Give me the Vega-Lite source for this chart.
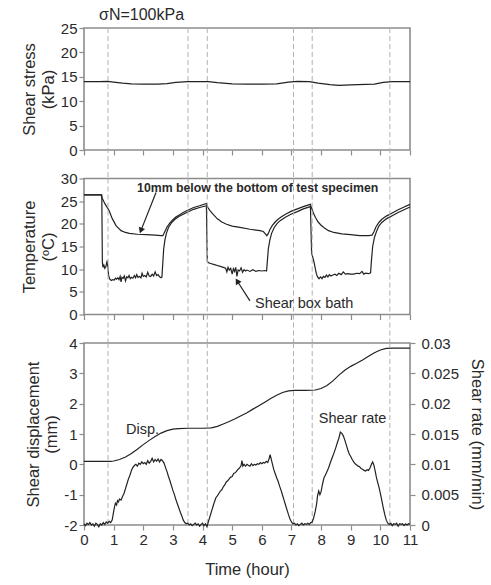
{
  "$schema": "https://vega.github.io/schema/vega-lite/v6.json",
  "background": "white",
  "padding": {"left": 21, "top": 6, "right": 2, "bottom": 2},
  "config": {
    "font": "Liberation Sans",
    "view": {"stroke": "#8c8c8c", "strokeWidth": 1.6},
    "axis": {"domain": false, "grid": false, "tickColor": "#8c8c8c", "tickSize": 5, "tickWidth": 1.2, "labelFontSize": 15, "labelColor": "#2a2a2a", "titleFontSize": 16.5, "titleFontWeight": "normal", "titleColor": "#2a2a2a", "labelPadding": 2, "titlePadding": 4, "labelOverlap": false, "labelFlush": false},
    "line": {"color": "#222", "strokeWidth": 1.2}
  },
  "datasets": {
    "vlines": [{"t": 0.81}, {"t": 3.51}, {"t": 4.16}, {"t": 7.07}, {"t": 7.70}, {"t": 10.32}],
    "stress": [
      {"t":0,"v":14.0},{"t":0.5,"v":14.0},{"t":0.8,"v":14.05},{"t":1.0,"v":13.9},{"t":1.3,"v":13.7},{"t":1.6,"v":13.55},{"t":2.0,"v":13.5},{"t":2.5,"v":13.5},{"t":2.8,"v":13.6},{"t":3.1,"v":13.85},{"t":3.5,"v":14.0},{"t":4.2,"v":14.0},{"t":4.5,"v":13.8},{"t":5.0,"v":13.55},{"t":5.5,"v":13.5},{"t":6.0,"v":13.5},{"t":6.5,"v":13.55},{"t":6.9,"v":13.9},{"t":7.2,"v":14.05},{"t":7.6,"v":14.0},{"t":7.9,"v":13.7},{"t":8.3,"v":13.4},{"t":8.6,"v":13.25},{"t":9.0,"v":13.35},{"t":9.5,"v":13.45},{"t":9.8,"v":13.5},{"t":10.1,"v":13.85},{"t":10.4,"v":14.0},{"t":11,"v":14.0}
    ],
    "temp": [
      {"s":"upper","t":0,"v":26.4},{"s":"upper","t":0.57,"v":26.4},{"s":"upper","t":0.62,"v":25.6},{"s":"upper","t":0.7,"v":24.5},{"s":"upper","t":0.85,"v":22.9},{"s":"upper","t":0.95,"v":21.2},{"s":"upper","t":1.08,"v":19.6},{"s":"upper","t":1.25,"v":18.5},{"s":"upper","t":1.4,"v":18.1},{"s":"upper","t":1.53,"v":17.9},{"s":"upper","t":1.8,"v":17.7},{"s":"upper","t":2.1,"v":17.6},{"s":"upper","t":2.4,"v":17.5},{"s":"upper","t":2.6,"v":17.4},{"s":"upper","t":2.66,"v":17.4},{"s":"upper","t":2.7,"v":17.9},{"s":"upper","t":2.75,"v":18.6},{"s":"upper","t":2.8,"v":19.3},{"s":"upper","t":2.9,"v":20.2},{"s":"upper","t":3.0,"v":20.9},{"s":"upper","t":3.1,"v":21.5},{"s":"upper","t":3.2,"v":21.9},{"s":"upper","t":3.35,"v":22.5},{"s":"upper","t":3.5,"v":23.0},{"s":"upper","t":3.7,"v":23.6},{"s":"upper","t":3.9,"v":24.0},{"s":"upper","t":4.13,"v":24.5},{"s":"upper","t":4.18,"v":23.6},{"s":"upper","t":4.25,"v":22.9},{"s":"upper","t":4.36,"v":22.1},{"s":"upper","t":4.5,"v":21.1},{"s":"upper","t":4.65,"v":20.4},{"s":"upper","t":4.81,"v":19.9},{"s":"upper","t":5.0,"v":19.5},{"s":"upper","t":5.26,"v":19.2},{"s":"upper","t":5.6,"v":18.8},{"s":"upper","t":5.94,"v":18.5},{"s":"upper","t":6.05,"v":18.3},{"s":"upper","t":6.12,"v":17.8},{"s":"upper","t":6.17,"v":17.4},{"s":"upper","t":6.22,"v":17.9},{"s":"upper","t":6.27,"v":18.7},{"s":"upper","t":6.35,"v":19.6},{"s":"upper","t":6.45,"v":20.4},{"s":"upper","t":6.55,"v":21.0},{"s":"upper","t":6.65,"v":21.5},{"s":"upper","t":6.8,"v":22.1},{"s":"upper","t":7.0,"v":22.8},{"s":"upper","t":7.2,"v":23.3},{"s":"upper","t":7.4,"v":23.8},{"s":"upper","t":7.64,"v":24.3},{"s":"upper","t":7.68,"v":23.5},{"s":"upper","t":7.74,"v":22.4},{"s":"upper","t":7.81,"v":21.4},{"s":"upper","t":7.9,"v":20.4},{"s":"upper","t":8.0,"v":19.7},{"s":"upper","t":8.09,"v":19.2},{"s":"upper","t":8.25,"v":18.5},{"s":"upper","t":8.43,"v":18.1},{"s":"upper","t":8.7,"v":17.8},{"s":"upper","t":9.0,"v":17.6},{"s":"upper","t":9.3,"v":17.4},{"s":"upper","t":9.6,"v":17.4},{"s":"upper","t":9.72,"v":17.5},{"s":"upper","t":9.78,"v":18.2},{"s":"upper","t":9.85,"v":19.3},{"s":"upper","t":9.95,"v":20.3},{"s":"upper","t":10.05,"v":21.0},{"s":"upper","t":10.2,"v":21.7},{"s":"upper","t":10.4,"v":22.4},{"s":"upper","t":10.6,"v":23.1},{"s":"upper","t":10.8,"v":23.7},{"s":"upper","t":11.0,"v":24.3},
      {"s":"bath","t":0,"v":26.4},{"s":"bath","t":0.6,"v":26.4},{"s":"bath","t":0.62,"v":11.5},{"s":"bath","t":0.64,"v":10.4},{"s":"bath","t":0.67,"v":10.9},{"s":"bath","t":0.7,"v":10.2},{"s":"bath","t":0.74,"v":10.6},{"s":"bath","t":0.78,"v":11.9},{"s":"bath","t":0.8,"v":10.8},{"s":"bath","t":0.83,"v":8.6},{"s":"bath","t":0.87,"v":7.8},{"s":"bath","t":0.92,"v":7.5},{"s":"bath","t":0.97,"v":7.7},{"s":"bath","t":1.02,"v":7.6},{"s":"bath","t":1.06,"v":8.0},{"s":"bath","t":1.1,"v":7.8},{"s":"bath","t":1.14,"v":8.1},{"s":"bath","t":1.18,"v":7.7},{"s":"bath","t":1.22,"v":8.4},{"s":"bath","t":1.25,"v":7.2},{"s":"bath","t":1.28,"v":8.2},{"s":"bath","t":1.32,"v":8.0},{"s":"bath","t":1.36,"v":8.5},{"s":"bath","t":1.4,"v":7.4},{"s":"bath","t":1.44,"v":8.3},{"s":"bath","t":1.48,"v":8.1},{"s":"bath","t":1.52,"v":8.6},{"s":"bath","t":1.56,"v":7.9},{"s":"bath","t":1.6,"v":8.2},{"s":"bath","t":1.65,"v":8.0},{"s":"bath","t":1.7,"v":8.6},{"s":"bath","t":1.74,"v":8.1},{"s":"bath","t":1.78,"v":8.8},{"s":"bath","t":1.82,"v":8.2},{"s":"bath","t":1.87,"v":8.4},{"s":"bath","t":1.92,"v":8.1},{"s":"bath","t":1.96,"v":9.1},{"s":"bath","t":2.0,"v":8.4},{"s":"bath","t":2.05,"v":8.6},{"s":"bath","t":2.1,"v":8.3},{"s":"bath","t":2.15,"v":9.3},{"s":"bath","t":2.2,"v":8.5},{"s":"bath","t":2.25,"v":8.4},{"s":"bath","t":2.3,"v":8.9},{"s":"bath","t":2.35,"v":8.5},{"s":"bath","t":2.4,"v":9.4},{"s":"bath","t":2.45,"v":8.6},{"s":"bath","t":2.5,"v":8.8},{"s":"bath","t":2.55,"v":8.3},{"s":"bath","t":2.6,"v":8.1},{"s":"bath","t":2.63,"v":8.3},{"s":"bath","t":2.66,"v":11.5},{"s":"bath","t":2.69,"v":14.5},{"s":"bath","t":2.73,"v":16.4},{"s":"bath","t":2.78,"v":17.9},{"s":"bath","t":2.85,"v":19.2},{"s":"bath","t":2.95,"v":20.2},{"s":"bath","t":3.05,"v":20.9},{"s":"bath","t":3.2,"v":21.6},{"s":"bath","t":3.35,"v":22.1},{"s":"bath","t":3.5,"v":22.6},{"s":"bath","t":3.7,"v":23.2},{"s":"bath","t":3.9,"v":23.6},{"s":"bath","t":4.13,"v":24.0},{"s":"bath","t":4.16,"v":11.8},{"s":"bath","t":4.2,"v":11.4},{"s":"bath","t":4.3,"v":11.2},{"s":"bath","t":4.4,"v":11.0},{"s":"bath","t":4.5,"v":10.8},{"s":"bath","t":4.6,"v":10.6},{"s":"bath","t":4.7,"v":10.4},{"s":"bath","t":4.78,"v":10.2},{"s":"bath","t":4.82,"v":9.4},{"s":"bath","t":4.86,"v":10.4},{"s":"bath","t":4.9,"v":9.8},{"s":"bath","t":4.95,"v":10.2},{"s":"bath","t":5.0,"v":8.9},{"s":"bath","t":5.04,"v":10.1},{"s":"bath","t":5.08,"v":9.5},{"s":"bath","t":5.12,"v":10.4},{"s":"bath","t":5.16,"v":8.4},{"s":"bath","t":5.2,"v":9.8},{"s":"bath","t":5.25,"v":9.6},{"s":"bath","t":5.3,"v":10.3},{"s":"bath","t":5.35,"v":9.3},{"s":"bath","t":5.4,"v":9.9},{"s":"bath","t":5.45,"v":9.6},{"s":"bath","t":5.5,"v":9.8},{"s":"bath","t":5.6,"v":9.5},{"s":"bath","t":5.7,"v":9.9},{"s":"bath","t":5.8,"v":9.5},{"s":"bath","t":5.9,"v":9.7},{"s":"bath","t":6.0,"v":9.6},{"s":"bath","t":6.1,"v":9.7},{"s":"bath","t":6.16,"v":9.6},{"s":"bath","t":6.19,"v":12.0},{"s":"bath","t":6.22,"v":14.5},{"s":"bath","t":6.27,"v":16.4},{"s":"bath","t":6.33,"v":17.9},{"s":"bath","t":6.42,"v":19.2},{"s":"bath","t":6.52,"v":20.1},{"s":"bath","t":6.62,"v":20.7},{"s":"bath","t":6.78,"v":21.4},{"s":"bath","t":6.98,"v":22.1},{"s":"bath","t":7.2,"v":22.7},{"s":"bath","t":7.4,"v":23.3},{"s":"bath","t":7.64,"v":23.8},{"s":"bath","t":7.68,"v":13.5},{"s":"bath","t":7.72,"v":12.6},{"s":"bath","t":7.76,"v":11.6},{"s":"bath","t":7.8,"v":10.3},{"s":"bath","t":7.84,"v":9.0},{"s":"bath","t":7.88,"v":8.3},{"s":"bath","t":7.93,"v":7.9},{"s":"bath","t":7.98,"v":8.3},{"s":"bath","t":8.03,"v":7.9},{"s":"bath","t":8.08,"v":8.4},{"s":"bath","t":8.13,"v":8.2},{"s":"bath","t":8.18,"v":8.7},{"s":"bath","t":8.23,"v":8.3},{"s":"bath","t":8.28,"v":8.8},{"s":"bath","t":8.33,"v":8.5},{"s":"bath","t":8.4,"v":8.7},{"s":"bath","t":8.47,"v":8.9},{"s":"bath","t":8.53,"v":8.6},{"s":"bath","t":8.6,"v":9.1},{"s":"bath","t":8.68,"v":8.8},{"s":"bath","t":8.75,"v":9.4},{"s":"bath","t":8.82,"v":8.9},{"s":"bath","t":8.9,"v":9.0},{"s":"bath","t":9.0,"v":8.9},{"s":"bath","t":9.1,"v":8.9},{"s":"bath","t":9.2,"v":9.1},{"s":"bath","t":9.3,"v":9.0},{"s":"bath","t":9.38,"v":9.5},{"s":"bath","t":9.44,"v":8.9},{"s":"bath","t":9.5,"v":9.1},{"s":"bath","t":9.6,"v":9.0},{"s":"bath","t":9.67,"v":9.2},{"s":"bath","t":9.7,"v":12.0},{"s":"bath","t":9.74,"v":15.0},{"s":"bath","t":9.8,"v":17.0},{"s":"bath","t":9.88,"v":18.5},{"s":"bath","t":9.95,"v":19.5},{"s":"bath","t":10.05,"v":20.3},{"s":"bath","t":10.2,"v":21.1},{"s":"bath","t":10.4,"v":21.8},{"s":"bath","t":10.6,"v":22.5},{"s":"bath","t":10.8,"v":23.1},{"s":"bath","t":11.0,"v":23.7}
    ],
    "tempLabels": [
      {"t": 1.79, "v": 28.0, "label": "10mm below the bottom of test specimen", "size": "small"},
      {"t": 5.77, "v": 2.3, "label": "Shear box bath", "size": "big"}
    ],
    "arrows": [
      {"t1": 2.43, "v1": 26.9, "t2": 1.92, "v2": 18.5, "shape": "triangle-down", "ang": 21},
      {"t1": 5.6, "v1": 3.0, "t2": 5.17, "v2": 7.4, "shape": "triangle-up", "ang": -32}
    ],
    "disp": [
      {"t":0,"v":0.1},{"t":0.5,"v":0.1},{"t":0.9,"v":0.1},{"t":1.0,"v":0.11},{"t":1.2,"v":0.16},{"t":1.4,"v":0.24},{"t":1.6,"v":0.36},{"t":1.8,"v":0.5},{"t":2.0,"v":0.65},{"t":2.2,"v":0.79},{"t":2.4,"v":0.92},{"t":2.6,"v":1.03},{"t":2.8,"v":1.11},{"t":3.0,"v":1.16},{"t":3.2,"v":1.18},{"t":3.5,"v":1.19},{"t":4.0,"v":1.19},{"t":4.3,"v":1.2},{"t":4.5,"v":1.25},{"t":4.7,"v":1.33},{"t":4.9,"v":1.41},{"t":5.1,"v":1.5},{"t":5.3,"v":1.6},{"t":5.5,"v":1.7},{"t":5.7,"v":1.82},{"t":5.9,"v":1.93},{"t":6.1,"v":2.05},{"t":6.3,"v":2.17},{"t":6.5,"v":2.28},{"t":6.7,"v":2.37},{"t":6.9,"v":2.42},{"t":7.1,"v":2.44},{"t":7.5,"v":2.44},{"t":7.8,"v":2.45},{"t":8.0,"v":2.5},{"t":8.2,"v":2.6},{"t":8.4,"v":2.75},{"t":8.6,"v":2.94},{"t":8.8,"v":3.1},{"t":9.0,"v":3.23},{"t":9.2,"v":3.33},{"t":9.4,"v":3.44},{"t":9.6,"v":3.56},{"t":9.8,"v":3.68},{"t":10.0,"v":3.77},{"t":10.2,"v":3.82},{"t":10.4,"v":3.83},{"t":11,"v":3.83}
    ],
    "dispLabels": [
      {"t": 1.42, "v": 1.14, "label": "Disp."},
      {"t": 7.92, "v": 1.49, "label": "Shear rate"}
    ],
    "rate": [
      {"t":0,"r":0.0002},{"t":0.05,"r":-0.0001},{"t":0.1,"r":0.0003},{"t":0.15,"r":0.0001},{"t":0.2,"r":0.0004},{"t":0.25,"r":0.0},{"t":0.3,"r":0.0002},{"t":0.35,"r":-0.0002},{"t":0.4,"r":0.0003},{"t":0.45,"r":0.0001},{"t":0.5,"r":-0.0003},{"t":0.55,"r":0.0002},{"t":0.6,"r":0.0},{"t":0.65,"r":0.0004},{"t":0.7,"r":0.0001},{"t":0.75,"r":0.0005},{"t":0.8,"r":0.0003},{"t":0.85,"r":0.0006},{"t":0.9,"r":0.0004},{"t":0.95,"r":0.0008},{"t":1.0,"r":0.0022},{"t":1.03,"r":0.003},{"t":1.06,"r":0.0036},{"t":1.1,"r":0.0033},{"t":1.13,"r":0.004},{"t":1.16,"r":0.0038},{"t":1.2,"r":0.0043},{"t":1.25,"r":0.0041},{"t":1.3,"r":0.0047},{"t":1.35,"r":0.0052},{"t":1.4,"r":0.006},{"t":1.45,"r":0.0068},{"t":1.5,"r":0.0076},{"t":1.55,"r":0.0082},{"t":1.6,"r":0.009},{"t":1.65,"r":0.0095},{"t":1.7,"r":0.0098},{"t":1.75,"r":0.01},{"t":1.8,"r":0.0097},{"t":1.85,"r":0.0102},{"t":1.9,"r":0.01},{"t":1.95,"r":0.0104},{"t":2.0,"r":0.0101},{"t":2.05,"r":0.0103},{"t":2.1,"r":0.01},{"t":2.15,"r":0.0106},{"t":2.2,"r":0.0102},{"t":2.25,"r":0.0105},{"t":2.3,"r":0.011},{"t":2.35,"r":0.0104},{"t":2.4,"r":0.0108},{"t":2.45,"r":0.0105},{"t":2.5,"r":0.0109},{"t":2.55,"r":0.0104},{"t":2.6,"r":0.0108},{"t":2.65,"r":0.0106},{"t":2.7,"r":0.0102},{"t":2.75,"r":0.0095},{"t":2.8,"r":0.0088},{"t":2.85,"r":0.008},{"t":2.9,"r":0.0073},{"t":2.95,"r":0.0065},{"t":3.0,"r":0.0057},{"t":3.05,"r":0.005},{"t":3.1,"r":0.0042},{"t":3.15,"r":0.0035},{"t":3.2,"r":0.0028},{"t":3.25,"r":0.0021},{"t":3.3,"r":0.0015},{"t":3.35,"r":0.0008},{"t":3.4,"r":0.0004},{"t":3.45,"r":0.0002},{"t":3.5,"r":0.0003},{"t":3.55,"r":0.0},{"t":3.6,"r":0.0002},{"t":3.65,"r":-0.0001},{"t":3.7,"r":0.0001},{"t":3.75,"r":0.0003},{"t":3.8,"r":0.0},{"t":3.85,"r":0.0002},{"t":3.9,"r":-0.0002},{"t":3.95,"r":0.0001},{"t":4.0,"r":0.0003},{"t":4.05,"r":-0.0001},{"t":4.1,"r":0.0002},{"t":4.15,"r":-0.0003},{"t":4.2,"r":0.0006},{"t":4.25,"r":0.0014},{"t":4.3,"r":0.0022},{"t":4.35,"r":0.003},{"t":4.4,"r":0.0038},{"t":4.45,"r":0.0045},{"t":4.5,"r":0.0048},{"t":4.55,"r":0.0052},{"t":4.6,"r":0.0056},{"t":4.65,"r":0.0058},{"t":4.7,"r":0.0063},{"t":4.75,"r":0.0066},{"t":4.8,"r":0.0071},{"t":4.85,"r":0.0073},{"t":4.9,"r":0.0076},{"t":4.95,"r":0.0079},{"t":5.0,"r":0.008},{"t":5.05,"r":0.0085},{"t":5.1,"r":0.0086},{"t":5.15,"r":0.0089},{"t":5.2,"r":0.0092},{"t":5.25,"r":0.0094},{"t":5.3,"r":0.0098},{"t":5.33,"r":0.0106},{"t":5.36,"r":0.0097},{"t":5.4,"r":0.01},{"t":5.45,"r":0.0097},{"t":5.5,"r":0.01},{"t":5.55,"r":0.0098},{"t":5.6,"r":0.0097},{"t":5.65,"r":0.0101},{"t":5.7,"r":0.0098},{"t":5.75,"r":0.01},{"t":5.8,"r":0.0099},{"t":5.85,"r":0.0101},{"t":5.9,"r":0.01},{"t":5.95,"r":0.0103},{"t":6.0,"r":0.0101},{"t":6.05,"r":0.0103},{"t":6.1,"r":0.0102},{"t":6.15,"r":0.0105},{"t":6.2,"r":0.0103},{"t":6.25,"r":0.011},{"t":6.28,"r":0.0116},{"t":6.32,"r":0.0108},{"t":6.36,"r":0.01},{"t":6.4,"r":0.0092},{"t":6.45,"r":0.0085},{"t":6.5,"r":0.0078},{"t":6.55,"r":0.0072},{"t":6.6,"r":0.0064},{"t":6.65,"r":0.0057},{"t":6.7,"r":0.0049},{"t":6.75,"r":0.0041},{"t":6.8,"r":0.0033},{"t":6.85,"r":0.0025},{"t":6.9,"r":0.0017},{"t":6.95,"r":0.001},{"t":7.0,"r":0.0005},{"t":7.05,"r":0.0002},{"t":7.1,"r":0.0003},{"t":7.15,"r":0.0},{"t":7.2,"r":0.0002},{"t":7.25,"r":-0.0001},{"t":7.3,"r":0.0001},{"t":7.35,"r":0.0003},{"t":7.4,"r":0.0},{"t":7.45,"r":0.0002},{"t":7.5,"r":0.0001},{"t":7.55,"r":0.0003},{"t":7.6,"r":0.0001},{"t":7.65,"r":0.0004},{"t":7.7,"r":0.0005},{"t":7.75,"r":0.0012},{"t":7.8,"r":0.0022},{"t":7.85,"r":0.0035},{"t":7.88,"r":0.0048},{"t":7.92,"r":0.0056},{"t":7.96,"r":0.005},{"t":8.0,"r":0.0055},{"t":8.05,"r":0.0068},{"t":8.1,"r":0.0078},{"t":8.15,"r":0.0083},{"t":8.2,"r":0.0088},{"t":8.25,"r":0.0094},{"t":8.3,"r":0.0101},{"t":8.35,"r":0.0108},{"t":8.4,"r":0.0114},{"t":8.45,"r":0.0121},{"t":8.5,"r":0.0128},{"t":8.55,"r":0.0136},{"t":8.6,"r":0.0143},{"t":8.65,"r":0.0153},{"t":8.7,"r":0.0151},{"t":8.75,"r":0.0147},{"t":8.8,"r":0.014},{"t":8.85,"r":0.0132},{"t":8.9,"r":0.0124},{"t":8.95,"r":0.0117},{"t":9.0,"r":0.0113},{"t":9.05,"r":0.0108},{"t":9.1,"r":0.0104},{"t":9.15,"r":0.0101},{"t":9.2,"r":0.0099},{"t":9.25,"r":0.0097},{"t":9.3,"r":0.0096},{"t":9.35,"r":0.0093},{"t":9.4,"r":0.0092},{"t":9.45,"r":0.009},{"t":9.5,"r":0.0089},{"t":9.55,"r":0.0091},{"t":9.6,"r":0.009},{"t":9.65,"r":0.0094},{"t":9.7,"r":0.01},{"t":9.74,"r":0.0104},{"t":9.78,"r":0.0099},{"t":9.82,"r":0.009},{"t":9.86,"r":0.008},{"t":9.9,"r":0.0072},{"t":9.95,"r":0.0063},{"t":10.0,"r":0.0052},{"t":10.05,"r":0.004},{"t":10.1,"r":0.0028},{"t":10.15,"r":0.0017},{"t":10.2,"r":0.0008},{"t":10.25,"r":0.0003},{"t":10.3,"r":0.0001},{"t":10.35,"r":0.0003},{"t":10.4,"r":-0.0001},{"t":10.45,"r":0.0002},{"t":10.5,"r":0.0001},{"t":10.55,"r":0.0003},{"t":10.6,"r":-0.0002},{"t":10.65,"r":0.0002},{"t":10.7,"r":0.0001},{"t":10.75,"r":0.0002},{"t":10.8,"r":-0.0001},{"t":10.85,"r":0.0002},{"t":10.9,"r":0.0},{"t":10.95,"r":0.0002},{"t":11.0,"r":0.0001}
    ]
  },
  "bounds": "flush",
  "spacing": 28.5,
  "vconcat": [
    {
      "width": 326,
      "height": 122,
      "title": {"text": "σN=100kPa", "anchor": "start", "frame": "group", "dx": 15, "offset": -2, "fontSize": 16, "fontWeight": "normal", "color": "#2a2a2a", "font": "Liberation Sans"},
      "encoding": {
        "x": {"field": "t", "type": "quantitative", "scale": {"domain": [0, 11], "nice": false}, "axis": {"labels": false, "title": null, "values": [0,1,2,3,4,5,6,7,8,9,10,11]}}
      },
      "layer": [
        {
          "data": {"name": "stress"},
          "mark": {"type": "line"},
          "encoding": {
            "y": {"field": "v", "type": "quantitative", "scale": {"domain": [0, 25], "nice": false}, "axis": {"title": ["Shear stress", "(kPa)"], "values": [0,5,10,15,20,25], "labelOverlap": false}}
          }
        },
        {
          "data": {"name": "vlines"},
          "mark": {"type": "rule", "color": "#b0b0b0", "strokeDash": [5, 3], "strokeWidth": 1},
          "encoding": {
            "y": {"datum": 25, "type": "quantitative", "scale": {"domain": [0, 25], "nice": false}, "axis": {"title": ["Shear stress", "(kPa)"], "values": [0,5,10,15,20,25], "labelOverlap": false}},
            "y2": {"datum": -5.9}
          }
        }
      ]
    },
    {
      "width": 326,
      "height": 136,
      "encoding": {
        "x": {"field": "t", "type": "quantitative", "scale": {"domain": [0, 11], "nice": false}, "axis": {"labels": false, "title": null, "values": [0,1,2,3,4,5,6,7,8,9,10,11]}}
      },
      "layer": [
        {
          "data": {"name": "temp"},
          "mark": {"type": "line"},
          "encoding": {
            "y": {"field": "v", "type": "quantitative", "scale": {"domain": [0, 30], "nice": false}, "axis": {"title": ["Temperature", "(ºC)"], "values": [0,5,10,15,20,25,30], "labelOverlap": false}},
            "detail": {"field": "s", "type": "nominal"}
          }
        },
        {
          "data": {"name": "vlines"},
          "mark": {"type": "rule", "color": "#b0b0b0", "strokeDash": [5, 3], "strokeWidth": 1},
          "encoding": {
            "y": {"datum": 30, "type": "quantitative", "scale": {"domain": [0, 30], "nice": false}, "axis": {"title": ["Temperature", "(ºC)"], "values": [0,5,10,15,20,25,30], "labelOverlap": false}},
            "y2": {"datum": -6.2}
          }
        },
        {
          "data": {"name": "arrows"},
          "mark": {"type": "rule", "color": "#222", "strokeWidth": 1.2},
          "encoding": {
            "x": {"field": "t1", "type": "quantitative"},
            "y": {"field": "v1", "type": "quantitative", "scale": {"domain": [0, 30], "nice": false}, "axis": {"title": ["Temperature", "(ºC)"], "values": [0,5,10,15,20,25,30], "labelOverlap": false}},
            "x2": {"field": "t2"},
            "y2": {"field": "v2"}
          }
        },
        {
          "data": {"name": "arrows"},
          "mark": {"type": "point", "filled": true, "color": "#222", "opacity": 1, "size": 45},
          "encoding": {
            "x": {"field": "t2", "type": "quantitative"},
            "y": {"field": "v2", "type": "quantitative", "scale": {"domain": [0, 30], "nice": false}, "axis": {"title": ["Temperature", "(ºC)"], "values": [0,5,10,15,20,25,30], "labelOverlap": false}},
            "shape": {"field": "shape", "type": "nominal", "scale": null},
            "angle": {"field": "ang", "type": "quantitative", "scale": null}
          }
        },
        {
          "data": {"name": "tempLabels"},
          "transform": [{"filter": "datum.size === 'small'"}],
          "mark": {"type": "text", "align": "left", "baseline": "middle", "fontSize": 12.3, "fontWeight": "bold", "color": "#2a2a2a"},
          "encoding": {
            "y": {"field": "v", "type": "quantitative", "scale": {"domain": [0, 30], "nice": false}, "axis": {"title": ["Temperature", "(ºC)"], "values": [0,5,10,15,20,25,30], "labelOverlap": false}},
            "text": {"field": "label"}
          }
        },
        {
          "data": {"name": "tempLabels"},
          "transform": [{"filter": "datum.size === 'big'"}],
          "mark": {"type": "text", "align": "left", "baseline": "middle", "fontSize": 14.5, "color": "#2a2a2a"},
          "encoding": {
            "y": {"field": "v", "type": "quantitative", "scale": {"domain": [0, 30], "nice": false}, "axis": {"title": ["Temperature", "(ºC)"], "values": [0,5,10,15,20,25,30], "labelOverlap": false}},
            "text": {"field": "label"}
          }
        }
      ]
    },
    {
      "width": 326,
      "height": 182,
      "encoding": {
        "x": {"field": "t", "type": "quantitative", "scale": {"domain": [0, 11], "nice": false}, "axis": {"title": "Time (hour)", "values": [0,1,2,3,4,5,6,7,8,9,10,11], "titlePadding": 14, "labelOverlap": false}}
      },
      "layer": [
        {
          "layer": [
            {
              "data": {"name": "disp"},
              "mark": {"type": "line"},
              "encoding": {
                "y": {"field": "v", "type": "quantitative", "scale": {"domain": [-2, 4], "nice": false}, "axis": {"title": ["Shear displacement", "(mm)"], "values": [-2,-1,0,1,2,3,4], "labelOverlap": false, "labelExpr": "datum.value < 0 ? '-' + abs(datum.value) : datum.label"}}
              }
            },
            {
              "data": {"name": "vlines"},
              "mark": {"type": "rule", "color": "#b0b0b0", "strokeDash": [5, 3], "strokeWidth": 1},
              "encoding": {}
            },
            {
              "data": {"name": "dispLabels"},
              "mark": {"type": "text", "align": "left", "baseline": "middle", "fontSize": 14.5, "color": "#2a2a2a"},
              "encoding": {
                "y": {"field": "v", "type": "quantitative", "scale": {"domain": [-2, 4], "nice": false}, "axis": {"title": ["Shear displacement", "(mm)"], "values": [-2,-1,0,1,2,3,4], "labelOverlap": false, "labelExpr": "datum.value < 0 ? '-' + abs(datum.value) : datum.label"}},
                "text": {"field": "label"}
              }
            }
          ]
        },
        {
          "data": {"name": "rate"},
          "mark": {"type": "line"},
          "encoding": {
            "y": {"field": "r", "type": "quantitative", "scale": {"domain": [0, 0.03], "nice": false}, "axis": {"orient": "right", "title": "Shear rate (mm/min)", "values": [0, 0.005, 0.01, 0.015, 0.02, 0.025, 0.03], "format": "~g", "labelPadding": 6, "titlePadding": 10, "labelOverlap": false}}
          }
        }
      ],
      "resolve": {"scale": {"y": "independent"}}
    }
  ]
}
